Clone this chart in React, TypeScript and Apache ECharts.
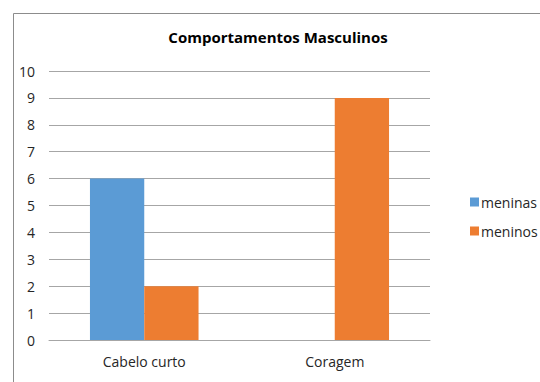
import React, { useEffect, useRef } from "react";
import * as echarts from "echarts";

const categories = ["Cabelo curto", "Coragem"];
const meninas = [6, 0];
const meninos = [2, 9];
const seriesNames = ["meninas", "meninos"];
const titleText = "Comportamentos Masculinos";

const FONT = "'Open Sans', 'Noto Sans', sans-serif";

export default function App() {
  const ref = useRef<HTMLDivElement>(null);

  useEffect(() => {
    if (!ref.current) return;
    const chart = echarts.init(ref.current, null, { renderer: "svg" });
    chart.setOption({
      animation: false,
      backgroundColor: "#ffffff",
      textStyle: { fontFamily: FONT },
      title: {
        text: titleText,
        left: 273,
        top: 24,
        textAlign: "center",
        textStyle: { fontFamily: FONT, fontSize: 15, fontWeight: "bold", color: "#000" },
      },
      graphic: [
        {
          type: "rect",
          left: 11,
          top: 11,
          shape: { width: 600, height: 420 },
          style: { fill: "none", stroke: "#8c8c8c", lineWidth: 1 },
          silent: true,
        },
      ],
      legend: {
        orient: "vertical",
        left: 465,
        top: 190,
        itemWidth: 9,
        itemHeight: 9,
        itemGap: 15,
        icon: "rect",
        data: seriesNames,
        textStyle: { fontFamily: FONT, fontSize: 14, color: "#262626", padding: [0, 0, 0, -3] },
      },
      grid: { left: 49, right: 110, top: 71, bottom: 42, containLabel: false },
      xAxis: {
        type: "category",
        data: categories,
        axisTick: { show: false },
        axisLine: { lineStyle: { color: "#a6a6a6" } },
        axisLabel: { fontFamily: FONT, fontSize: 14, color: "#262626", margin: 14 },
      },
      yAxis: {
        type: "value",
        min: 0,
        max: 10,
        interval: 1,
        axisLine: { show: false },
        axisTick: { show: false },
        splitLine: { lineStyle: { color: "#a6a6a6" } },
        axisLabel: { fontFamily: FONT, fontSize: 14, color: "#262626", margin: 14 },
      },
      series: [
        {
          name: seriesNames[0],
          type: "bar",
          data: meninas,
          itemStyle: { color: "#5b9bd5" },
          barGap: "0%",
          barCategoryGap: "43%",
        },
        {
          name: seriesNames[1],
          type: "bar",
          data: meninos,
          itemStyle: { color: "#ed7d31" },
          barGap: "0%",
          barCategoryGap: "43%",
        },
      ],
    });
    return () => chart.dispose();
  }, []);

  return (
    <div
      ref={ref}
      style={{ position: "fixed", left: 0, top: 0, width: 540, height: 382, background: "#fff" }}
    />
  );
}
